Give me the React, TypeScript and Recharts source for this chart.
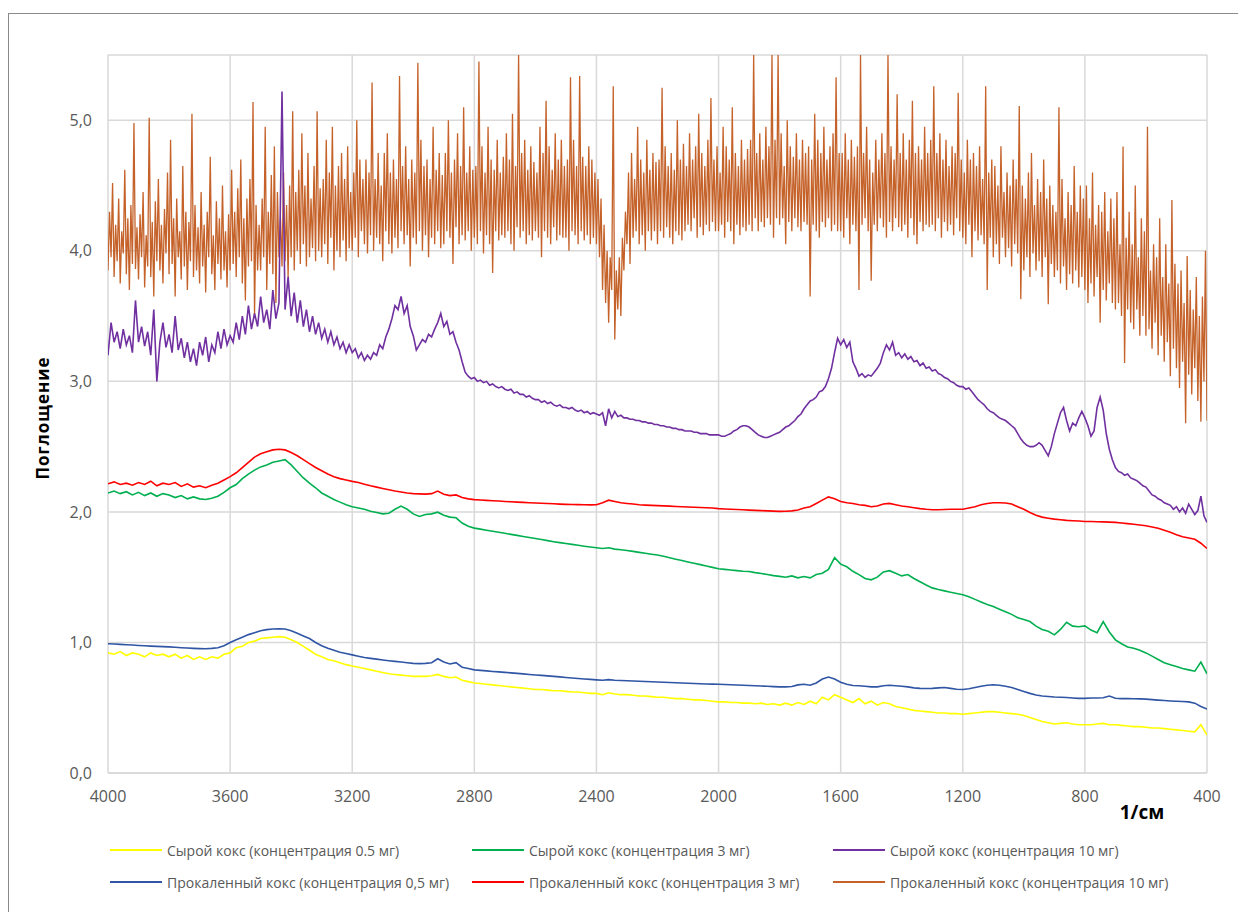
import { LineChart, Line, XAxis, YAxis, CartesianGrid } from 'recharts'

// wavenumber ticks (axis runs from 4000 down to 400)
const xTicks = [4000, 3600, 3200, 2800, 2400, 2000, 1600, 1200, 800, 400]
const yTicks = [0, 1, 2, 3, 4, 5]

// smooth spectra: one value every 20 1/см, rows of 10 (200 1/см each), last value is 400
const rawCoke05 = [
  0.92, 0.91, 0.93, 0.9, 0.92, 0.91, 0.89, 0.92, 0.9, 0.91,
  0.89, 0.91, 0.88, 0.9, 0.87, 0.89, 0.87, 0.89, 0.88, 0.91,
  0.92, 0.96, 0.97, 1.0, 1.01, 1.03, 1.035, 1.04, 1.045, 1.04,
  1.02, 1.0, 0.97, 0.94, 0.91, 0.89, 0.87, 0.86, 0.845, 0.83,
  0.82, 0.81, 0.8, 0.79, 0.78, 0.77, 0.76, 0.755, 0.75, 0.745,
  0.74, 0.74, 0.74, 0.745, 0.755, 0.74, 0.73, 0.735, 0.71, 0.7,
  0.69, 0.685, 0.68, 0.675, 0.67, 0.665, 0.66, 0.655, 0.65, 0.645,
  0.64, 0.64, 0.635, 0.63, 0.63, 0.625, 0.62, 0.62, 0.615, 0.61,
  0.61, 0.6, 0.615, 0.605, 0.6, 0.6, 0.595, 0.59, 0.59, 0.585,
  0.58, 0.58, 0.575, 0.57, 0.57, 0.565, 0.56, 0.56, 0.555, 0.55,
  0.545, 0.545, 0.54, 0.54, 0.535, 0.535, 0.53, 0.535, 0.525, 0.53,
  0.52, 0.535, 0.52, 0.54, 0.525, 0.55, 0.53, 0.58, 0.56, 0.6,
  0.58, 0.56, 0.54, 0.57, 0.53, 0.55, 0.52, 0.54, 0.53, 0.51,
  0.5, 0.49, 0.48, 0.475, 0.47, 0.465, 0.46, 0.46, 0.455, 0.455,
  0.45, 0.455, 0.46, 0.465, 0.47, 0.47, 0.465, 0.46, 0.455, 0.45,
  0.44, 0.425, 0.41, 0.395, 0.385, 0.375, 0.38, 0.385, 0.375, 0.37,
  0.37, 0.37, 0.375, 0.38, 0.37, 0.37, 0.365, 0.36, 0.355, 0.355,
  0.35, 0.345, 0.345, 0.34, 0.335, 0.33, 0.325, 0.32, 0.315, 0.37,
  0.29,
]

const rawCoke3 = [
  2.145, 2.16, 2.14, 2.155, 2.13, 2.15, 2.125, 2.145, 2.12, 2.14,
  2.13, 2.11, 2.125, 2.1, 2.115, 2.1, 2.095, 2.105, 2.12, 2.15,
  2.185, 2.21, 2.255, 2.29, 2.32, 2.345, 2.36, 2.38, 2.39, 2.4,
  2.36, 2.31, 2.26, 2.22, 2.185, 2.145, 2.12, 2.095, 2.075, 2.055,
  2.04, 2.03, 2.02, 2.005, 1.995, 1.985, 1.99, 2.02, 2.045, 2.02,
  1.985, 1.965, 1.98, 1.985, 1.998, 1.975, 1.96, 1.955, 1.915, 1.89,
  1.876, 1.868, 1.86, 1.852, 1.844, 1.836, 1.828, 1.82, 1.812, 1.804,
  1.796, 1.788, 1.78, 1.772, 1.765, 1.758, 1.751, 1.744, 1.737, 1.731,
  1.725, 1.72, 1.725, 1.715, 1.71, 1.705, 1.698, 1.69, 1.683, 1.676,
  1.67, 1.66, 1.649, 1.638, 1.628, 1.617, 1.606, 1.596, 1.585, 1.575,
  1.564, 1.56, 1.555, 1.55, 1.546, 1.544, 1.535, 1.528, 1.52, 1.512,
  1.506, 1.5, 1.51, 1.495, 1.505, 1.495, 1.52, 1.53, 1.56, 1.65,
  1.6, 1.58, 1.545, 1.52, 1.49, 1.48, 1.5, 1.54, 1.55, 1.53,
  1.51, 1.52, 1.49, 1.465, 1.44, 1.418, 1.405, 1.395, 1.385, 1.375,
  1.365, 1.35, 1.33, 1.31, 1.29, 1.275, 1.255, 1.235, 1.215, 1.19,
  1.175, 1.16, 1.125, 1.1, 1.085, 1.058, 1.1, 1.155, 1.125, 1.12,
  1.127, 1.095, 1.075, 1.16, 1.08, 1.02, 0.99, 0.965, 0.955, 0.94,
  0.92, 0.895, 0.87, 0.845, 0.83, 0.815, 0.8, 0.79, 0.78, 0.85,
  0.76,
]

const calcCoke05 = [
  0.99, 0.988, 0.985, 0.982, 0.98, 0.977, 0.975, 0.972, 0.97, 0.968,
  0.966, 0.963, 0.96, 0.957, 0.955, 0.953, 0.952, 0.955, 0.96, 0.975,
  1.0, 1.02, 1.04, 1.06, 1.075, 1.09, 1.098, 1.103, 1.105, 1.103,
  1.09, 1.07, 1.05, 1.03, 1.0, 0.975, 0.955, 0.94, 0.925, 0.915,
  0.905, 0.895, 0.885, 0.878, 0.872, 0.866, 0.86, 0.855, 0.85, 0.845,
  0.84, 0.838, 0.84, 0.845, 0.875, 0.85, 0.835, 0.845, 0.81, 0.8,
  0.79, 0.786, 0.782, 0.778, 0.775, 0.771, 0.767, 0.763, 0.759, 0.755,
  0.751, 0.748, 0.744, 0.74, 0.736, 0.732, 0.728, 0.724, 0.72, 0.717,
  0.713, 0.71, 0.715, 0.71, 0.708, 0.707, 0.705, 0.703, 0.701, 0.699,
  0.697, 0.695, 0.693, 0.691, 0.689, 0.688, 0.686, 0.684, 0.682, 0.681,
  0.68, 0.678, 0.676, 0.674, 0.672, 0.67, 0.668, 0.666, 0.664, 0.662,
  0.66, 0.66, 0.662, 0.675, 0.68, 0.672, 0.69, 0.72, 0.735, 0.72,
  0.695, 0.68, 0.67, 0.668, 0.665, 0.66, 0.66, 0.668, 0.672, 0.668,
  0.665, 0.66, 0.652, 0.648, 0.647, 0.648, 0.652, 0.655, 0.648, 0.642,
  0.64, 0.645, 0.655, 0.665, 0.672, 0.676, 0.672, 0.665, 0.655, 0.64,
  0.625, 0.61, 0.598, 0.59, 0.586, 0.582, 0.58, 0.578, 0.575, 0.572,
  0.572, 0.575, 0.575, 0.576, 0.59, 0.572, 0.57, 0.57, 0.569, 0.568,
  0.566, 0.562, 0.558, 0.555, 0.552, 0.55, 0.548, 0.545, 0.535, 0.51,
  0.49,
]

const calcCoke3 = [
  2.216, 2.23, 2.21, 2.22, 2.205, 2.225, 2.21, 2.235, 2.2, 2.22,
  2.21, 2.225, 2.195, 2.215, 2.19, 2.2, 2.185, 2.205, 2.22, 2.245,
  2.27, 2.3, 2.34, 2.38, 2.42, 2.445, 2.46, 2.475, 2.48, 2.475,
  2.455, 2.43, 2.4, 2.37, 2.34, 2.315, 2.29, 2.27, 2.255, 2.245,
  2.234, 2.225, 2.212, 2.2, 2.19, 2.18, 2.17, 2.16, 2.152, 2.145,
  2.14, 2.138, 2.136, 2.14, 2.16, 2.135, 2.125, 2.13, 2.11, 2.1,
  2.094, 2.091, 2.088, 2.086, 2.083, 2.08, 2.078, 2.075, 2.073, 2.07,
  2.068, 2.066, 2.064, 2.062, 2.06, 2.058, 2.057, 2.056, 2.055, 2.054,
  2.055, 2.07, 2.09, 2.08, 2.07, 2.065, 2.06, 2.055, 2.052, 2.05,
  2.048, 2.046, 2.044, 2.042, 2.04, 2.038, 2.036, 2.034, 2.032, 2.03,
  2.025, 2.022, 2.02, 2.018, 2.016, 2.014, 2.012, 2.01, 2.008, 2.006,
  2.004, 2.005, 2.008, 2.015, 2.03, 2.04, 2.065, 2.09, 2.115, 2.1,
  2.08, 2.07, 2.065, 2.055, 2.05, 2.04, 2.045, 2.06, 2.065, 2.055,
  2.045, 2.04, 2.032, 2.025, 2.02, 2.017, 2.016, 2.018, 2.02, 2.02,
  2.02, 2.03, 2.04, 2.055, 2.065, 2.07, 2.07, 2.068, 2.06, 2.04,
  2.02, 1.995, 1.975, 1.96, 1.952, 1.945, 1.94, 1.935, 1.932, 1.93,
  1.927, 1.926, 1.925, 1.924, 1.922, 1.92, 1.915, 1.91, 1.905, 1.9,
  1.894, 1.885, 1.875, 1.86, 1.845, 1.825, 1.81, 1.8, 1.79, 1.76,
  1.72,
]

// purple spectrum: one value every 10 1/см, rows of 10 (100 1/см each), last value is 400
const rawCoke10 = [
  3.2, 3.45, 3.3, 3.38, 3.25, 3.4, 3.28, 3.35, 3.22, 3.62,
  3.3, 3.42, 3.27, 3.38, 3.2, 3.55, 3.0, 3.3, 3.45, 3.26,
  3.36, 3.22, 3.5, 3.24, 3.33, 3.18, 3.3, 3.15, 3.25, 3.12,
  3.3, 3.2, 3.34, 3.15, 3.28, 3.22, 3.38, 3.25, 3.4, 3.28,
  3.35, 3.3, 3.45, 3.32, 3.5, 3.36, 3.58, 3.4, 3.52, 3.42,
  3.65, 3.45, 3.55, 3.4, 3.7, 3.48, 3.6, 5.22, 3.55, 3.8,
  3.5, 3.68, 3.45, 3.62, 3.42, 3.55, 3.38, 3.5, 3.36, 3.45,
  3.33, 3.4, 3.3, 3.38, 3.28, 3.34, 3.25, 3.3, 3.22, 3.28,
  3.22, 3.25, 3.18, 3.22, 3.16, 3.2, 3.17, 3.22, 3.2, 3.28,
  3.25, 3.34, 3.4, 3.48, 3.58, 3.55, 3.65, 3.52, 3.58, 3.42,
  3.35, 3.24, 3.28, 3.32, 3.3, 3.36, 3.34, 3.4, 3.45, 3.52,
  3.42, 3.46, 3.36, 3.38, 3.3, 3.24, 3.15, 3.07, 3.04, 3.02,
  3.03, 3.0, 3.01, 2.99, 3.0, 2.97, 2.98, 2.96, 2.95, 2.96,
  2.94, 2.93, 2.94, 2.91, 2.92, 2.9, 2.9, 2.88, 2.89, 2.87,
  2.86, 2.86, 2.84, 2.85, 2.83, 2.84, 2.82, 2.81, 2.82, 2.8,
  2.8, 2.79, 2.8, 2.78, 2.77, 2.78, 2.76, 2.77, 2.75, 2.76,
  2.75, 2.74, 2.76, 2.66, 2.79, 2.72, 2.77, 2.73, 2.74, 2.72,
  2.72, 2.71, 2.71, 2.7, 2.7, 2.69, 2.69, 2.68, 2.68, 2.67,
  2.67, 2.66, 2.66, 2.65, 2.65, 2.64, 2.64, 2.63, 2.63, 2.62,
  2.62, 2.62, 2.61, 2.61, 2.6, 2.6, 2.6, 2.59, 2.59, 2.59,
  2.59, 2.58, 2.58, 2.59, 2.6, 2.62, 2.63, 2.65, 2.66, 2.66,
  2.65, 2.63, 2.61, 2.59, 2.58, 2.57, 2.57, 2.58, 2.59, 2.6,
  2.61, 2.63, 2.65, 2.66, 2.68, 2.7, 2.73, 2.75, 2.79, 2.82,
  2.85, 2.86, 2.88, 2.92, 2.93, 2.96, 3.02, 3.1, 3.22, 3.33,
  3.28, 3.32, 3.26, 3.3, 3.15, 3.1, 3.04, 3.06, 3.03, 3.05,
  3.04, 3.07, 3.1, 3.14, 3.22, 3.28, 3.24, 3.3, 3.2, 3.22,
  3.18, 3.21, 3.17, 3.19, 3.15, 3.16, 3.12, 3.14, 3.1, 3.11,
  3.08, 3.09, 3.06, 3.05, 3.03, 3.02, 3.0, 2.99, 2.97, 2.96,
  2.96, 2.94, 2.95, 2.92, 2.89, 2.86, 2.84, 2.82, 2.79, 2.77,
  2.76, 2.74, 2.72, 2.71, 2.7, 2.68, 2.66, 2.64, 2.6, 2.56,
  2.53, 2.51, 2.5, 2.5, 2.51, 2.53, 2.51, 2.47, 2.43, 2.5,
  2.6, 2.68, 2.76, 2.8, 2.7, 2.62, 2.68, 2.66, 2.72, 2.77,
  2.72, 2.66, 2.58, 2.62, 2.8, 2.88, 2.78, 2.6, 2.48, 2.4,
  2.34, 2.31, 2.3, 2.28, 2.29, 2.26, 2.25, 2.24, 2.22, 2.2,
  2.19, 2.16, 2.13, 2.12, 2.1, 2.09, 2.07, 2.06, 2.05, 2.02,
  2.04, 2.0, 2.03, 1.99, 2.06, 2.02, 1.98, 2.01, 2.12, 1.97,
  1.92,
]

// orange spectrum: one value every 5 1/см, rows of 20 (100 1/см each), last value is 400
const calcCoke10 = [
  3.85, 4.3, 3.95, 4.52, 3.8, 4.2, 3.92, 4.4, 3.75, 4.15, 3.98, 4.62, 3.82, 4.25, 3.7, 4.35, 3.9, 4.98, 3.86, 4.18,
  3.78, 4.28, 3.95, 4.45, 3.72, 4.12, 3.88, 5.02, 3.8, 4.22, 3.65, 4.38, 3.92, 4.55, 3.85, 4.2, 3.75, 4.32, 3.98, 4.6,
  3.82, 4.85, 3.9, 4.25, 3.65, 4.4, 3.95, 4.15, 3.78, 4.65, 3.88, 4.3, 3.7, 4.22, 3.92, 5.05, 3.8, 4.35, 3.85, 4.18,
  3.75, 4.45, 3.88, 4.2, 3.68, 4.3, 3.95, 4.72, 3.82, 4.12, 3.7, 4.38, 3.9, 4.25, 3.78, 4.5, 3.85, 4.15, 3.72, 4.28,
  3.85, 4.62, 3.9, 4.3, 3.8, 4.48, 3.95, 4.7, 3.75, 4.25, 3.62, 4.4, 3.88, 4.55, 3.92, 5.14, 3.5, 4.35, 3.85, 4.2,
  3.85, 4.4, 3.95, 4.95, 3.7, 4.3, 3.9, 4.58, 3.82, 4.8, 3.6, 4.45, 3.95, 4.25, 3.88, 4.6, 3.92, 4.35, 3.8, 4.5,
  3.95, 5.07, 3.85, 4.45, 4.0, 4.62, 3.9, 4.9, 4.05, 4.5, 3.88, 4.75, 3.95, 4.4, 4.02, 4.65, 3.92, 5.07, 4.0, 4.48,
  3.95, 4.55, 4.05, 4.85, 3.9, 4.6, 4.1, 4.95, 3.85, 4.5, 4.0, 4.65, 3.95, 4.75, 4.08, 4.55, 3.92, 4.8, 4.02, 4.45,
  4.0, 4.6, 4.1, 5.0, 3.95, 4.7, 4.15, 4.55, 4.05, 4.7, 3.98, 4.6, 4.12, 5.29, 4.0, 4.55, 4.1, 4.75, 4.05, 4.5,
  3.92, 4.75, 4.15, 4.9, 4.05, 4.6, 3.98, 4.7, 4.1, 4.55, 4.02, 5.34, 4.15, 4.65, 4.05, 4.8, 4.12, 4.55, 3.88, 4.7,
  4.1, 4.6, 4.05, 5.44, 4.15, 4.85, 4.0, 4.65, 4.12, 4.7, 3.95, 4.55, 4.1, 4.95, 4.05, 4.62, 4.15, 4.75, 4.02, 4.58,
  4.05, 4.75, 4.15, 5.0, 4.1, 4.6, 3.9, 4.7, 4.18, 4.9, 4.05, 4.65, 4.12, 5.1, 4.08, 4.6, 4.15, 4.8, 4.0, 4.62,
  4.1, 4.65, 4.05, 5.45, 4.15, 4.8, 3.98, 4.6, 4.12, 4.95, 4.05, 4.7, 3.83, 4.62, 4.15, 4.85, 4.08, 4.6, 4.12, 4.72,
  4.1, 4.9, 4.15, 4.7, 4.05, 5.05, 4.0, 4.65, 4.18, 5.5, 4.1, 4.75, 4.15, 4.85, 4.05, 4.62, 4.12, 4.8, 4.08, 4.68,
  4.15, 4.6, 4.1, 4.95, 3.95, 4.75, 4.15, 5.15, 4.1, 4.8, 4.05, 4.62, 4.18, 4.9, 4.08, 4.7, 4.12, 4.85, 4.1, 4.65,
  4.1, 4.7, 4.0, 5.33, 4.15, 4.85, 4.12, 4.65, 4.05, 5.34, 4.15, 4.72, 4.08, 4.65, 4.12, 4.8, 4.05, 4.7, 4.1, 4.6,
  4.05, 4.55, 3.95, 4.4, 3.7, 4.2, 3.6, 4.0, 3.45, 3.95, 3.7, 5.26, 3.32, 3.85, 3.55, 3.95, 3.5, 4.1, 3.85, 4.3,
  4.05, 4.6, 3.9, 4.75, 4.1, 4.55, 4.15, 4.95, 4.05, 4.7, 4.12, 4.6, 4.0, 4.85, 4.15, 4.62, 4.08, 4.75, 4.15, 4.68,
  4.05, 4.7, 4.15, 5.25, 4.1, 4.8, 4.18, 4.65, 4.1, 4.75, 4.05, 4.62, 4.15, 5.0, 4.12, 4.7, 4.08, 4.82, 4.15, 4.65,
  4.2, 4.9, 4.15, 4.7, 4.25, 4.8, 4.1, 5.05, 4.18, 4.75, 4.12, 4.65, 4.2, 4.85, 4.15, 5.17, 4.22, 4.7, 4.15, 4.8,
  4.15, 4.6, 4.2, 4.95, 4.1, 4.8, 4.22, 4.7, 4.15, 5.1, 4.05, 4.75, 4.2, 4.65, 4.12, 4.85, 4.18, 4.7, 4.15, 4.78,
  4.2, 4.85, 4.15, 5.5, 4.25, 4.75, 4.15, 4.9, 4.22, 4.7, 4.18, 4.95, 4.25, 4.8, 4.2, 5.5, 4.1, 4.85, 4.25, 5.5,
  4.2, 4.9, 4.25, 4.65, 4.05, 5.0, 4.22, 4.8, 4.15, 4.72, 4.25, 4.9, 4.18, 4.7, 4.15, 4.85, 4.22, 4.75, 4.2, 4.8,
  3.65, 4.7, 4.2, 5.05, 4.15, 4.85, 4.1, 4.75, 4.22, 4.95, 4.18, 4.7, 4.25, 4.8, 4.15, 4.9, 4.2, 5.33, 4.15, 4.75,
  4.15, 4.75, 4.1, 4.9, 4.25, 4.7, 4.05, 4.85, 4.2, 4.72, 4.15, 4.8, 3.7, 5.5, 4.2, 4.75, 4.25, 4.95, 4.15, 4.7,
  3.77, 4.6, 4.2, 4.85, 4.15, 4.7, 4.25, 4.9, 4.18, 4.75, 4.1, 5.5, 4.22, 4.8, 4.15, 4.7, 4.25, 5.2, 4.18, 4.75,
  4.15, 4.9, 4.2, 4.7, 4.1, 4.85, 4.25, 5.15, 4.12, 4.75, 4.05, 4.8, 4.22, 4.7, 4.15, 4.95, 4.2, 4.75, 4.18, 4.85,
  4.2, 5.26, 4.15, 4.75, 4.25, 4.9, 4.1, 4.7, 4.22, 4.85, 4.15, 4.65, 4.2, 4.8, 4.12, 4.75, 4.25, 5.21, 4.15, 4.7,
  4.1, 4.6, 4.05, 4.85, 4.2, 4.7, 3.95, 4.75, 4.15, 4.65, 4.08, 4.8, 4.12, 4.55, 4.05, 5.26, 3.7, 4.6, 4.1, 4.7,
  3.95, 4.65, 4.05, 4.5, 3.9, 4.8, 4.1, 4.45, 3.95, 4.6, 4.02, 4.5, 3.88, 4.7, 4.05, 4.55, 3.98, 5.11, 3.63, 4.5,
  3.85, 4.4, 3.95, 4.6, 3.8, 4.75, 3.98, 4.35, 3.85, 4.55, 3.92, 4.45, 3.8, 4.7, 3.95, 4.4, 3.59, 4.5, 3.9, 4.35,
  3.8, 4.3, 3.85, 5.1, 3.75, 4.55, 3.88, 4.25, 3.7, 4.45, 3.82, 4.35, 3.75, 4.65, 3.85, 4.3, 3.72, 4.5, 3.8, 4.4,
  3.7, 4.5, 3.6, 4.25, 3.75, 4.6, 3.65, 4.2, 3.8, 4.35, 3.45, 4.3, 3.7, 4.45, 3.62, 4.15, 3.75, 4.4, 3.6, 4.25,
  3.55, 4.45, 3.6, 4.05, 3.5, 4.8, 3.14, 4.1, 3.55, 4.3, 3.45, 4.05, 3.4, 4.5, 3.55, 3.95, 3.35, 4.25, 3.5, 4.15,
  3.35, 4.95, 3.4, 3.85, 3.25, 4.05, 3.45, 3.95, 3.2, 4.25, 3.35, 3.8, 3.15, 4.05, 3.3, 3.75, 3.04, 4.39, 3.25, 3.9,
  3.1, 3.75, 2.95, 3.85, 3.15, 3.6, 2.68, 3.96, 3.05, 3.7, 2.9, 3.55, 3.1, 3.8, 2.85, 3.5, 2.69, 3.65, 3.0, 4.0,
  2.7,
]

const toPoints = (values: number[], step: number) =>
  values.map((v, i) => ({ wn: 4000 - i * step, v }))

const series = [
  { key: 'raw05', name: 'Сырой кокс (концентрация 0.5 мг)', color: '#FFFF00', width: 1.6, data: toPoints(rawCoke05, 20) },
  { key: 'raw3', name: 'Сырой кокс (концентрация 3 мг)', color: '#00B050', width: 1.6, data: toPoints(rawCoke3, 20) },
  { key: 'raw10', name: 'Сырой кокс (концентрация 10 мг)', color: '#7030A0', width: 1.6, data: toPoints(rawCoke10, 10) },
  { key: 'calc05', name: 'Прокаленный кокс (концентрация 0,5 мг)', color: '#2F55A4', width: 1.6, data: toPoints(calcCoke05, 20) },
  { key: 'calc3', name: 'Прокаленный кокс (концентрация 3 мг)', color: '#FF0000', width: 1.6, data: toPoints(calcCoke3, 20) },
  { key: 'calc10', name: 'Прокаленный кокс (концентрация 10 мг)', color: '#C5622A', width: 1.3, data: toPoints(calcCoke10, 5) },
]

// orange first so the purple spike stays visible over it
const drawOrder = ['calc10', 'raw10', 'calc05', 'raw05', 'raw3', 'calc3']

const legendCols = [102, 464, 825]
const legendRows = [842, 874]

const tickStyle = { fontSize: 16, fill: '#595959', fontFamily: '"Open Sans", sans-serif' }

export default function App() {
  return (
    <div style={{ position: 'relative', width: 1238, height: 904, fontFamily: '"Open Sans", sans-serif' }}>
      <div
        style={{
          position: 'absolute',
          left: 0,
          top: 5,
          width: 1238,
          height: 899,
          borderTop: '1px solid #8a8a8a',
          borderLeft: '1px solid #8a8a8a',
          boxSizing: 'border-box',
        }}
      />
      <div style={{ position: 'absolute', left: 0, top: 5 }}>
        <LineChart width={1238} height={899} margin={{ top: 42, right: 39, left: 40, bottom: 99 }}>
          <CartesianGrid stroke="#d9d9d9" strokeWidth={1.5} />
          <XAxis
            type="number"
            dataKey="wn"
            domain={[400, 4000]}
            reversed
            ticks={xTicks}
            interval={0}
            height={40}
            tickLine={false}
            tickMargin={12}
            axisLine={{ stroke: '#d9d9d9', strokeWidth: 1.5 }}
            tick={tickStyle}
            allowDataOverflow
          />
          <YAxis
            type="number"
            domain={[0, 5.5]}
            ticks={yTicks}
            width={60}
            tickLine={false}
            axisLine={false}
            tickMargin={10}
            allowDataOverflow
            tickFormatter={(v: number) => v.toFixed(1).replace('.', ',')}
            tick={tickStyle}
          />
          {drawOrder.map(k => {
            const s = series.find(x => x.key === k)!
            return (
              <Line
                key={s.key}
                data={s.data}
                dataKey="v"
                name={s.name}
                type="linear"
                stroke={s.color}
                strokeWidth={s.width}
                dot={false}
                activeDot={false}
                isAnimationActive={false}
              />
            )
          })}
        </LineChart>
      </div>
      <div
        style={{
          position: 'absolute',
          left: 34,
          top: 410,
          transform: 'translate(-50%, -50%) rotate(-90deg)',
          fontWeight: 700,
          fontSize: 17,
          color: '#000',
          letterSpacing: 1,
          whiteSpace: 'nowrap',
        }}
      >
        Поглощение
      </div>
      <div
        style={{
          position: 'absolute',
          left: 1134,
          top: 804,
          transform: 'translate(-50%, -50%)',
          fontWeight: 700,
          fontSize: 19,
          color: '#000',
          whiteSpace: 'nowrap',
        }}
      >
        1/см
      </div>
      {series.map((s, i) => {
        const x = legendCols[i % 3]
        const y = legendRows[Math.floor(i / 3)] - 10
        return (
          <div key={s.key} style={{ position: 'absolute', left: x, top: y, height: 20, display: 'flex', alignItems: 'center' }}>
            <div style={{ width: 52, height: 2, background: s.color, marginRight: 5 }} />
            <span style={{ fontSize: 14, color: '#595959', whiteSpace: 'nowrap' }}>{s.name}</span>
          </div>
        )
      })}
    </div>
  )
}
